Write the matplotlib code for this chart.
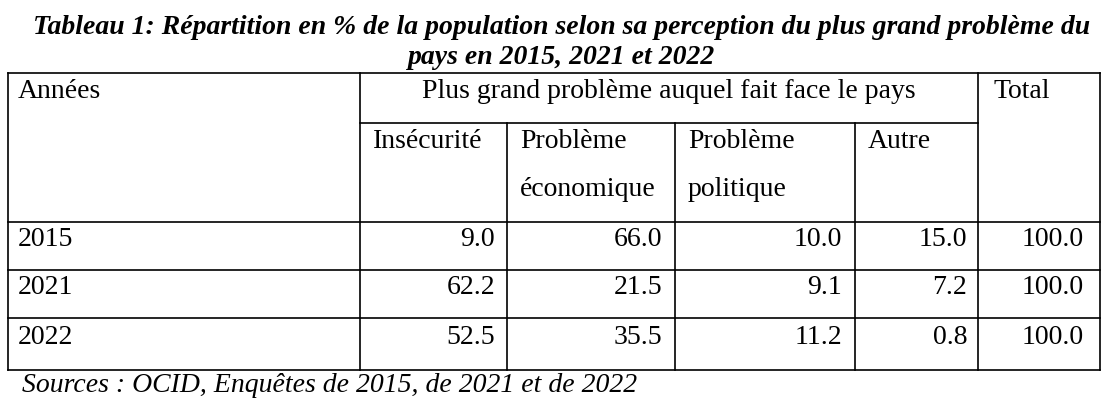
import matplotlib.pyplot as plt

annees = ["2015", "2021", "2022"]
colonnes = ["Insécurité", "Problème\néconomique", "Problème\npolitique", "Autre"]
insecurite = [9.0, 62.2, 52.5]
economique = [66.0, 21.5, 35.5]
politique = [10.0, 9.1, 11.2]
autre = [15.0, 7.2, 0.8]
total = [100.0, 100.0, 100.0]

fig = plt.figure(figsize=(11.14, 4.08), dpi=100)
ax = fig.add_axes([0, 0, 1, 1])
ax.set_xlim(0, 1114)
ax.set_ylim(408, 0)
ax.axis("off")

serif = "Liberation Serif"
fs = 20

ax.text(562, 28, "Tableau 1: Répartition en % de la population selon sa perception du plus grand problème du",
        ha="center", va="center", family=serif, fontsize=20, weight="bold", style="italic")
ax.text(562, 58, "pays en 2015, 2021 et 2022",
        ha="center", va="center", family=serif, fontsize=20, weight="bold", style="italic")

# table grid
xl, xr = 8, 1100
vx = [360, 507, 675, 855, 978]
hy = [73, 222, 270, 318, 370]
lw = 1.2
for y in hy:
    ax.plot([xl, xr], [y, y], color="black", lw=lw)
ax.plot([vx[0], vx[-1]], [123, 123], color="black", lw=lw)
for x in [xl, xr, vx[0], vx[-1]]:
    ax.plot([x, x], [73, 370], color="black", lw=lw)
for x in vx[1:-1]:
    ax.plot([x, x], [123, 370], color="black", lw=lw)

ax.text(18, 92, "Années", va="center", family=serif, fontsize=fs)
ax.text(669, 92, "Plus grand problème auquel fait face le pays", ha="center", va="center", family=serif, fontsize=fs)
ax.text(993, 92, "Total", va="center", family=serif, fontsize=fs)
for i, c in enumerate(colonnes):
    lines = c.split("\n")
    for j, t in enumerate(lines):
        ax.text(vx[i] + 13, 142 + 48 * j, t, va="center", family=serif, fontsize=fs)

rows = list(zip(insecurite, economique, politique, autre, total))
rights = [495, 662, 842, 967, 1084]
for r, (an, vals) in enumerate(zip(annees, rows)):
    yc = (hy[r + 1] + hy[r + 2]) / 2 - 6
    ax.text(18, yc, an, va="center", family=serif, fontsize=fs)
    for xr_, v in zip(rights, vals):
        ax.text(xr_, yc, f"{v:.1f}", ha="right", va="center", family=serif, fontsize=fs)

ax.text(22, 386, "Sources : OCID, Enquêtes de 2015, de 2021 et de 2022",
        va="center", family=serif, fontsize=20, style="italic")

fig.savefig("out.png", dpi=100)
